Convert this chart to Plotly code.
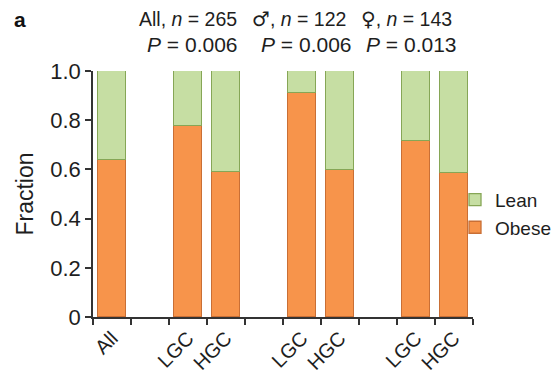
import plotly.graph_objects as go

labels = ["All", "LGC", "HGC", "LGC", "HGC", "LGC", "HGC"]
obese = [0.638, 0.778, 0.591, 0.909, 0.598, 0.715, 0.584]
lean = [round(1 - v, 3) for v in obese]
SYM = '<span style="font-family:DejaVu Sans;font-size:20px">{}</span>'
group_titles = ["All, <i>n</i> = 265", SYM.format("♂") + ", <i>n</i> = 122",
                SYM.format("♀") + ", <i>n</i> = 143"]
p_values = ["<i>P</i> = 0.006", "<i>P</i> = 0.006", "<i>P</i> = 0.013"]
y_ticks = [0, 0.2, 0.4, 0.6, 0.8, 1.0]
y_tick_text = ["0", "0.2", "0.4", "0.6", "0.8", "1.0"]

slots = [0, 2, 3, 5, 6, 8, 9]

# The page body has an 8px margin, so the figure is drawn 8px in from the window edge.
OFF = 8
W, H = 560 - OFF, 376 - OFF
PLOT_L, PLOT_R, PLOT_T, PLOT_B = 93, 473, 71, 317   # page pixels of the plot area
L, T = PLOT_L - OFF, PLOT_T - OFF
R, B = W - (PLOT_R - OFF), H - (PLOT_B - OFF)
pw = PLOT_R - PLOT_L

title_px = [188, 299, 406]
p_px = [192, 306, 411]
legend_left_px = 455

FONT = "Liberation Sans, Arial, Helvetica, sans-serif"
ORANGE = "#f7944b"
ORANGE_LINE = "#c96f35"
GREEN = "#c6dea3"
GREEN_LINE = "#86a656"
AXIS = "#333333"
TXT = "#1e1e1e"

fig = go.Figure()
fig.add_trace(go.Bar(x=slots, y=obese, name="Obese", width=0.74,
                     marker=dict(color=ORANGE, line=dict(color=ORANGE_LINE, width=1.3))))
fig.add_trace(go.Bar(x=slots, y=lean, name="Lean", width=0.74,
                     marker=dict(color=GREEN, line=dict(color=GREEN_LINE, width=1.3))))

annotations = [dict(text="<b>a</b>", x=(20 - PLOT_L) / pw, y=1.0, xref="paper", yref="paper",
                    yshift=52, xanchor="center", yanchor="middle", showarrow=False,
                    font=dict(family=FONT, size=21, color="#111111"))]
for px, t in zip(title_px, group_titles):
    annotations.append(dict(text=t, x=(px - PLOT_L) / pw, xref="paper", y=1.0, yref="paper",
                            yshift=52, showarrow=False, xanchor="center", yanchor="middle",
                            font=dict(family=FONT, size=19.5, color=TXT)))
for px, p in zip(p_px, p_values):
    annotations.append(dict(text=p, x=(px - PLOT_L) / pw, xref="paper", y=1.0, yref="paper",
                            yshift=27, showarrow=False, xanchor="center", yanchor="middle",
                            font=dict(family=FONT, size=21, color=TXT)))

fig.update_layout(
    width=W, height=H,
    margin=dict(l=L, r=R, t=T, b=B, autoexpand=False),
    barmode="stack",
    bargap=0,
    plot_bgcolor="white", paper_bgcolor="white",
    font=dict(family=FONT, size=20, color=TXT),
    showlegend=True,
    legend=dict(x=(legend_left_px - PLOT_L) / pw, y=0.42, xanchor="left", yanchor="middle",
                traceorder="reversed", font=dict(family=FONT, size=19, color=TXT),
                itemwidth=30, tracegroupgap=0, bgcolor="rgba(0,0,0,0)"),
    annotations=annotations,
    xaxis=dict(range=[-0.5, 9.5], tickvals=slots, ticktext=labels, tickangle=-45,
               ticks="", showline=True, linecolor=AXIS, linewidth=1.5,
               showgrid=False, zeroline=False, automargin=False,
               tickfont=dict(family=FONT, size=20, color=TXT),
               minor=dict(tickvals=[i - 0.5 for i in range(11)], ticks="outside",
                          ticklen=6, tickwidth=1.5, tickcolor=AXIS, showgrid=False)),
    yaxis=dict(range=[0, 1.0], tickvals=y_ticks, ticktext=y_tick_text,
               ticks="outside", ticklen=6, tickwidth=1.5, tickcolor=AXIS,
               showline=True, linecolor=AXIS, linewidth=1.5,
               showgrid=False, zeroline=False, automargin=False,
               tickfont=dict(family=FONT, size=22, color=TXT),
               title=dict(text="Fraction", font=dict(family=FONT, size=23, color=TXT),
                          standoff=10)),
)

fig.write_html("out.html")
